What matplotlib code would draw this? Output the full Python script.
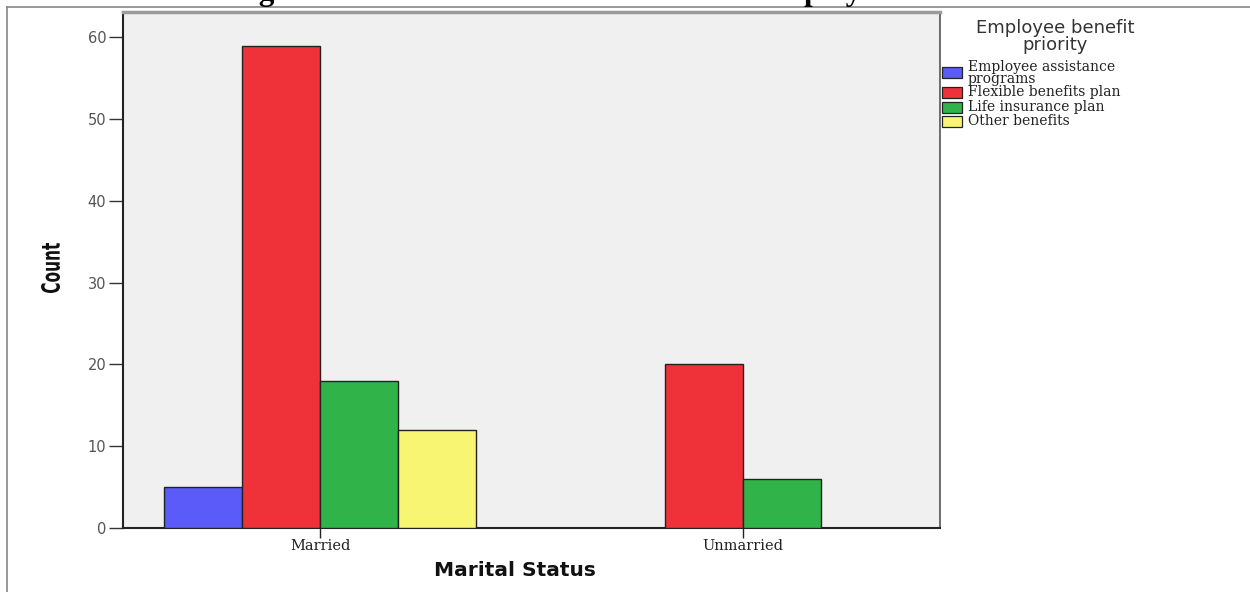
import matplotlib
matplotlib.use('Agg')
import matplotlib.pyplot as plt
from matplotlib.patches import Rectangle, PathPatch
from matplotlib.lines import Line2D
from matplotlib.textpath import TextPath
from matplotlib.font_manager import FontProperties
from matplotlib.transforms import Affine2D
import numpy as np

# ── Data ──────────────────────────────────────────────────────────────────────
groups = ['Married', 'Unmarried']
series = ['Employee assistance\nprograms', 'Flexible benefits plan',
          'Life insurance plan', 'Other benefits']
counts = {
    'Employee assistance\nprograms': [5, 0],
    'Flexible benefits plan':        [59, 20],
    'Life insurance plan':           [18, 6],
    'Other benefits':                [12, 0],
}
colors = ['#5B5BFA', '#EF323A', '#30B44A', '#F8F573']

W, H = 1250, 592
fig = plt.figure(figsize=(W / 100, H / 100), dpi=100)
fig.patch.set_facecolor('white')

def px(x, y):
    return x / W, 1 - y / H

# ── Axes ──────────────────────────────────────────────────────────────────────
ax = fig.add_axes([123 / W, 1 - 528 / H, (940 - 123) / W, (528 - 12) / H])
ax.set_facecolor('#F0F0F0')

x = np.arange(len(groups))
bw = 0.184
for i, s in enumerate(series):
    ax.bar(x + (i - 1.5) * bw, counts[s], width=bw, color=colors[i],
           edgecolor='#222222', linewidth=1.0, zorder=3)

ax.set_xlim(-0.466, 1.466)
ax.set_ylim(0, 63.1)
ax.set_yticks(range(0, 61, 10))
ax.set_xticks(x)
ax.set_xticklabels(groups, fontsize=10.5, family='DejaVu Serif', color='#222222')
ax.tick_params(axis='y', direction='out', length=10, width=1.0, colors='#333333',
               labelsize=10.5, labelcolor='#555555', pad=2)
ax.tick_params(axis='x', direction='out', length=7, width=1.0, colors='#222222',
               pad=1)

for side in ['left', 'bottom']:
    ax.spines[side].set_color('#222222')
    ax.spines[side].set_linewidth(1.5)
ax.spines['top'].set_color('#9A9A9A')
ax.spines['top'].set_linewidth(2.5)
ax.spines['right'].set_color('#555555')
ax.spines['right'].set_linewidth(1.2)

ax.set_xlabel('Marital Status', fontsize=14.5, fontweight='bold', color='#111111')
ax.xaxis.set_label_coords((515 - 123) / 817, -(570 - 528) / 516)
ax.xaxis.label.set_va('center')

# "Count" in a condensed bold face: squeeze a text path into the box it fills
tp = TextPath((0, 0), 'Count', size=24,
              prop=FontProperties(family='DejaVu Sans', weight='bold'))
ext = tp.get_extents()
tr = (Affine2D().translate(-ext.x0, -ext.y0)
      .scale(50 / ext.width, 19 / ext.height)
      .rotate_deg(90).translate(60, H - 293))
fig.add_artist(PathPatch(tr.transform_path(tp), facecolor='#111111',
                         edgecolor='none', transform=None))

# ── Legend (drawn by hand to match SPSS layout) ───────────────────────────────
fig.text(*px(1055, 28), 'Employee benefit', ha='center', va='center',
         fontsize=13, color='#333333')
fig.text(*px(1055, 45), 'priority', ha='center', va='center',
         fontsize=13, color='#333333')
patch_tops = [67, 87, 102, 116]
text_ys = [[67, 79], [92], [107], [121]]
for i, s in enumerate(series):
    x0, y0 = px(942, patch_tops[i] + 11)
    fig.add_artist(Rectangle((x0, y0), 20 / W, 11 / H, transform=fig.transFigure,
                             facecolor=colors[i], edgecolor='#222222', lw=0.9))
    for line, ty in zip(s.split('\n'), text_ys[i]):
        fig.text(*px(968, ty), line, ha='left', va='center', fontsize=10,
                 family='DejaVu Serif', color='#222222')

# ── Title (clipped at the top, as in the source) ──────────────────────────────
fig.text(*px(231, 0), 'Figure 4: Marital Status and Preferred Employee Benefits',
         ha='left', va='baseline', fontsize=22.5, fontweight='bold',
         family='Liberation Serif')

# ── Page border lines ─────────────────────────────────────────────────────────
fig.add_artist(Line2D([7 / W, 7 / W], [0, 1 - 7 / H], transform=fig.transFigure,
                      color='#888888', lw=1.2))
fig.add_artist(Line2D([7 / W, 1], [1 - 7 / H, 1 - 7 / H], transform=fig.transFigure,
                      color='#888888', lw=1.2))

fig.savefig('out.png', dpi=100)
